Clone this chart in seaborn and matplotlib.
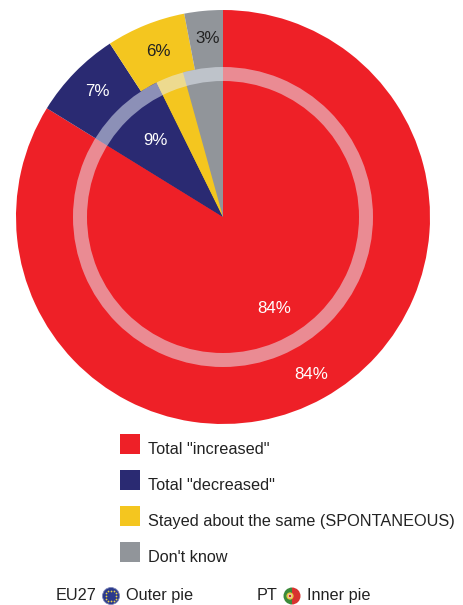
import numpy as np
import matplotlib
matplotlib.use("Agg")
import matplotlib.pyplot as plt
from matplotlib.patches import Circle, Wedge, Patch, Rectangle
from matplotlib.legend_handler import HandlerPatch
import seaborn as sns

categories = ['Total "increased"', 'Total "decreased"',
              'Stayed about the same (SPONTANEOUS)', "Don't know"]
eu27_values = [83.8, 7.0, 6.2, 3.0]
pt_values = [83.8, 8.9, 3.0, 4.3]
palette_hex = ["#EE2027", "#2A2A72", "#F4C61F", "#91959A"]

W, H = 464, 605
sns.set_theme(style="white")
plt.rcParams["font.family"] = ["Liberation Sans", "DejaVu Sans"]
colors = sns.color_palette(palette_hex)
TXT = "#222222"

fig = plt.figure(figsize=(W / 100, H / 100), dpi=100, facecolor="white")
ax = fig.add_axes([0, 0, 1, 1])

cx, cy = 223, H - 217
common = dict(center=(cx, cy), colors=colors, startangle=90, counterclock=False,
              wedgeprops=dict(linewidth=0), frame=True)
ax.pie(eu27_values, radius=207, **common)
ax.pie(pt_values, radius=150, **common)
ax.set_xlim(0, W)
ax.set_ylim(0, H)
ax.set_aspect("equal")
ax.axis("off")
ax.add_patch(Wedge((cx, cy), 150, 0, 360, width=14, facecolor=(232 / 255, 238 / 255, 248 / 255),
                   edgecolor="none", alpha=0.52, zorder=5))

fs = 12.2
labels = [(311, 374, eu27_values[0], "white"), (274, 308, pt_values[0], "white"),
          (97, 91, eu27_values[1], "white"), (155, 140, pt_values[1], "white"),
          (158, 51, eu27_values[2], TXT), (208, 38, eu27_values[3], TXT)]
for x, y, v, c in labels:
    ax.text(x, H - y, f"{v:.0f}%", color=c, fontsize=fs, ha="center", va="center", zorder=6)


def swatch(legend, orig_handle, xdescent, ydescent, width, height, fontsize):
    return Rectangle((0, 0), 14.4, 14.4)


fs2 = 11.7
handles = [Patch(facecolor=c, edgecolor="none", label=l) for c, l in zip(colors, categories)]
leg = ax.legend(handles=handles, loc="upper left", bbox_to_anchor=(104 / W, 1 - 424 / H),
                frameon=False, fontsize=fs2, handlelength=1.23, handleheight=1.17,
                handletextpad=0.5, labelspacing=1.2, borderpad=0.5, labelcolor=TXT,
                handler_map={Patch: HandlerPatch(patch_func=swatch)})

by = H - 596
ax.text(56, by, "EU27", fontsize=fs2, color=TXT, va="center", ha="left")
ax.text(126, by, "Outer pie", fontsize=fs2, color=TXT, va="center", ha="left")
ax.text(257, by, "PT", fontsize=fs2, color=TXT, va="center", ha="left")
ax.text(307, by, "Inner pie", fontsize=fs2, color=TXT, va="center", ha="left")

# EU flag badge
ax.add_patch(Circle((111, by), 8.5, facecolor="#2B3A8C", edgecolor="#8088B8", linewidth=0.6))
stars = np.deg2rad(np.arange(0, 360, 30))
ax.scatter(111 + 5.2 * np.cos(stars), by + 5.2 * np.sin(stars), s=1.6, color="#E8D24A", linewidths=0, zorder=4)
# Portuguese flag badge
ax.add_patch(Wedge((292, by), 8.5, 90, 270, facecolor="#3C8A3A", edgecolor="none"))
ax.add_patch(Wedge((292, by), 8.5, -90, 90, facecolor="#D8332F", edgecolor="none"))
ax.add_patch(Circle((290, by), 3.6, facecolor="#E9C93F", edgecolor="none", zorder=4))
ax.add_patch(Circle((290, by), 1.8, facecolor="#C9302C", edgecolor="white", linewidth=0.4, zorder=5))

fig.savefig("out.png", dpi=100, facecolor="white")
